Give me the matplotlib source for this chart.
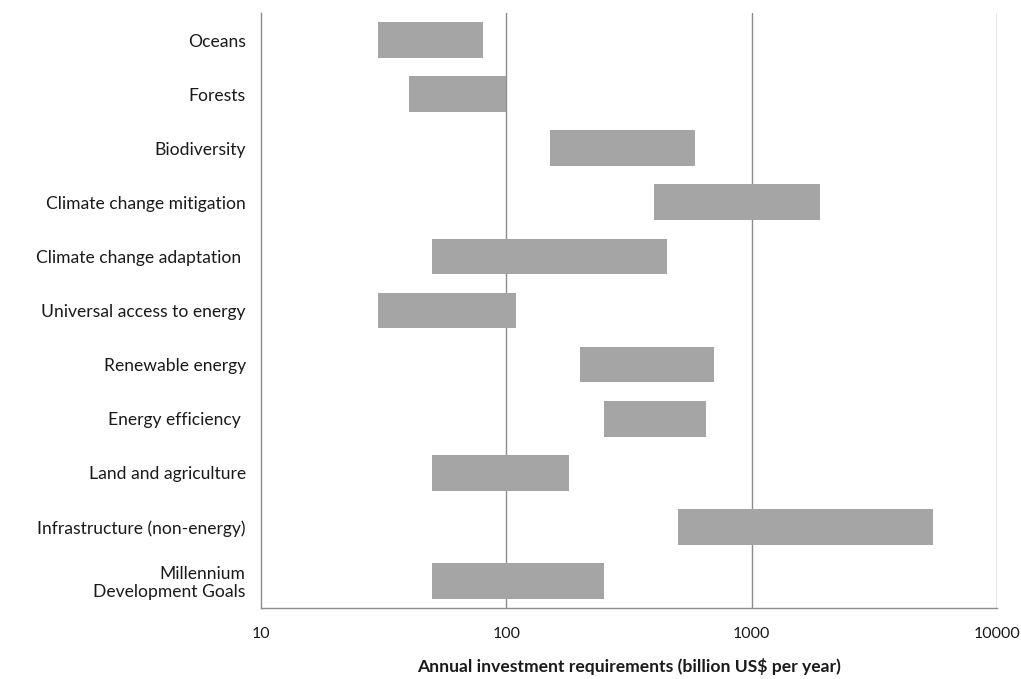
import matplotlib
matplotlib.use("Agg")
import matplotlib.pyplot as plt

categories = ["Oceans", "Forests", "Biodiversity", "Climate change mitigation",
              "Climate change adaptation ", "Universal access to energy",
              "Renewable energy", "Energy efficiency ", "Land and agriculture",
              "Infrastructure (non-energy)", "Millennium\nDevelopment Goals"]
low = [30, 40, 150, 400, 50, 30, 200, 250, 50, 500, 50]
high = [80, 100, 590, 1900, 450, 110, 700, 650, 180, 5500, 250]
ticks = [10, 100, 1000, 10000]
tick_labels = ["10", "100", "1000", "10000"]

plt.rcParams['font.family'] = ['Lato', 'DejaVu Sans']
fig = plt.figure(figsize=(10.21, 6.79), dpi=100)
ax = fig.add_axes([261/1021, 1-608/679, (997-261)/1021, (608-13)/679])

y = list(range(len(categories)))
widths = [h - l for l, h in zip(low, high)]
ax.barh(y, widths, left=low, height=0.66, color="#a5a5a5", zorder=2)
ax.set_xscale("log")
ax.set_xlim(10, 10000)
ax.set_ylim(len(categories) - 0.5, -0.5)
ax.set_yticks(y)
ax.set_yticklabels(categories, fontsize=12.6, color="#1a1a1a", ha="right",
                   multialignment="right", linespacing=1.15)
ax.set_xticks(ticks)
ax.set_xticklabels(tick_labels, fontsize=11.5, color="#1a1a1a")
ax.minorticks_off()
ax.tick_params(axis="both", length=0)
ax.tick_params(axis="x", pad=14)
ax.tick_params(axis="y", pad=11)
for t in [100, 1000, 10000]:
    ax.axvline(t, color="#8c8c8c", lw=1.0, zorder=1)
for s in ["top", "right"]:
    ax.spines[s].set_visible(False)
for s in ["left", "bottom"]:
    ax.spines[s].set_color("#8c8c8c")
    ax.spines[s].set_linewidth(1.0)
ax.set_xlabel("Annual investment requirements (billion US$ per year)",
              fontsize=12.6, fontweight="bold", color="#1a1a1a", labelpad=12)
fig.savefig("out.png", dpi=100)
